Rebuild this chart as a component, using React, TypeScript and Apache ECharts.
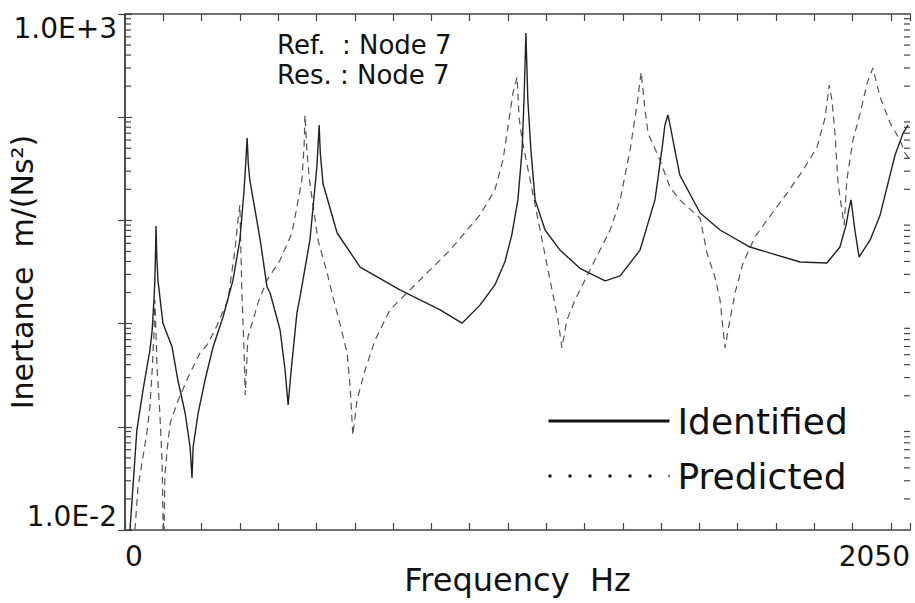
import React, { useEffect, useRef } from 'react';
import * as echarts from 'echarts';

const FONT = 'DejaVu Sans';

// Identified (solid) inertance curve, frequency in Hz, inertance in m/(Ns^2)
const identifiedFreq = [
  8, 13, 31, 47, 65, 71, 76, 78, 80, 81, 83, 86, 99, 123, 138, 157, 170, 175, 178, 191, 209, 230, 256, 282,
  300, 311, 316, 319, 322, 326, 353, 371, 379, 405, 418, 426, 434, 449, 457, 483, 501, 505, 507, 510, 517,
  554, 614, 718, 823, 880, 927, 966, 992, 1010, 1026, 1037, 1042, 1047, 1052, 1060, 1071, 1097, 1136, 1188,
  1254, 1293, 1345, 1384, 1402, 1410, 1418, 1426, 1436, 1449, 1502, 1554, 1632, 1763, 1833, 1867, 1883, 1890,
  1896, 1906, 1917, 1946, 1972, 1990, 2011, 2032, 2045,
];
const identifiedInert = [
  0.006, 0.01, 0.093, 0.227, 0.55, 0.867, 1.8, 2.64, 5.5, 8.8, 4.5, 2.64, 1.01, 0.593, 0.284, 0.136, 0.064, 0.032, 0.064, 0.136, 0.284, 0.593, 1.16, 2.64,
  6.46, 19.7, 40, 63, 35, 24.6, 6.46, 2.26, 1.98, 0.867, 0.355, 0.163, 0.355, 1.27, 1.81, 6.46, 32.9, 60, 84, 45, 22.8,
  7.55, 3.53, 2.12, 1.36, 1.01, 1.51, 2.37, 3.95, 7.2, 15.8, 48, 147, 655, 147, 48, 15.8, 8.07, 5.16, 3.43,
  2.59, 2.9, 5.16, 15.8, 48, 84, 105, 75, 48, 27.5, 11.8, 8.07, 5.52, 3.95, 3.87, 5.52, 9.0, 12.6,
  15.8, 8.07, 4.42, 6.46, 11.3, 21, 43, 70, 84,
];

// Predicted (dashed) inertance curve
const predictedFreq = [
  26, 34, 47, 57, 65, 71, 76, 78, 81, 84, 91, 97, 99, 101, 104, 110, 118, 136, 165, 196, 214, 235, 269, 287,
  295, 300, 305, 310, 314, 321, 340, 347, 371, 405, 436, 449, 462, 468, 470, 475, 481, 504, 528, 543, 561,
  580, 588, 595, 606, 627, 653, 692, 770, 849, 927, 966, 987, 1000, 1013, 1024, 1029, 1037, 1058, 1084,
  1110, 1131, 1141, 1154, 1175, 1214, 1267, 1293, 1319, 1337, 1348, 1358, 1366, 1397, 1423, 1449, 1502,
  1520, 1541, 1554, 1562, 1567, 1575, 1593, 1614, 1645, 1677, 1729, 1771, 1807, 1828, 1839, 1846, 1854,
  1862, 1872, 1878, 1885, 1901, 1920, 1938, 1953, 1972, 1998, 2024, 2037, 2050,
];
const predictedInert = [
  0.01, 0.026, 0.051, 0.087, 0.156, 0.355, 0.87, 1.69, 0.8, 0.355, 0.136, 0.0446, 0.0146, 0.004, 0.033, 0.0596, 0.109, 0.17, 0.304, 0.519, 0.62, 0.87, 1.69, 5.16,
  10, 14.1, 2.12, 0.7, 0.203, 0.741, 1.27, 1.58, 2.64, 4.13, 7.55, 13.5, 24.6, 56, 105, 48, 25.8, 6.46, 3.09, 1.81, 1.01,
  0.519, 0.243, 0.083, 0.182, 0.355, 0.693, 1.36, 2.64, 5.16, 11.3, 19.7, 38.5, 80, 171, 245, 100, 60, 24.6, 8.07,
  2.64, 1.08, 0.581, 1.08, 1.69, 3.3, 8.07, 15.8, 48, 131, 274, 117, 70, 38.5, 21, 15.8, 10.5,
  4.8, 2.8, 1.69, 0.87, 0.581, 0.87, 1.98, 3.87, 6.9, 10.1, 18.4, 30.8, 51, 98, 205, 147, 70,
  23, 12.6, 9.0, 24.6, 60, 110, 214, 300, 157, 88, 60, 45, 38.5,
];

const X_MIN = 0;
const X_MAX = 2050;
const X_INTERVAL = 100;
const Y_MIN = 0.01;
const Y_MAX = 1000;
const xTickLabels: Record<number, string> = { 0: '0', 2050: '2050' };
const yTickLabels: Record<number, string> = { [-2]: '1.0E-2', 3: '1.0E+3' };
const annotationLines = ['Ref.  : Node 7', 'Res. : Node 7'];
const DECADES = [0.01, 0.1, 1, 10, 100];
const MANTISSAS = [2, 3, 4, 5, 6, 7, 8, 9];
const minorTickValues: number[] = [];
DECADES.forEach((d) => MANTISSAS.forEach((m) => minorTickValues.push(+(d * m).toPrecision(3))));

const AXIS_COLOR = '#444';

export default function App() {
  const ref = useRef<HTMLDivElement>(null);
  useEffect(() => {
    if (!ref.current) return;
    const chart = echarts.init(ref.current, undefined, { renderer: 'svg' });
    const idData = identifiedFreq.map((f, i) => [f, identifiedInert[i]]);
    const prData = predictedFreq.map((f, i) => [f, predictedInert[i]]);

    const axisLineStyle = { lineStyle: { color: AXIS_COLOR, width: 1.5 } };
    const tickStyle = { show: true, inside: true, length: 7, lineStyle: { color: AXIS_COLOR, width: 1.2 } };

    chart.setOption({
      animation: false,
      backgroundColor: '#ffffff',
      grid: { left: 125, right: 5, top: 14, bottom: 73, containLabel: false, outerBoundsMode: 'none' },
      title: annotationLines.map((t, i) => ({
        text: t,
        left: 277,
        top: 32 + i * 30,
        padding: 0,
        textStyle: { fontFamily: FONT, fontSize: 26, fontWeight: 'normal', lineHeight: 26, color: '#111' },
      })),
      legend: {
        orient: 'vertical',
        left: 542,
        top: 398,
        itemWidth: 121,
        itemHeight: 40,
        itemGap: 19,
        selectedMode: false,
        data: [
          { name: 'Identified', itemStyle: { opacity: 0, borderWidth: 0 }, lineStyle: { type: 'solid', width: 3, color: '#111' } },
          { name: 'Predicted', itemStyle: { opacity: 0, borderWidth: 0 }, lineStyle: { type: [3, 17], width: 3, color: '#111' } },
        ],
        textStyle: { fontFamily: FONT, fontSize: 36, color: '#111', padding: [0, 0, 0, 3] },
      },
      xAxis: [
        {
          type: 'value',
          min: X_MIN,
          max: X_MAX,
          interval: X_INTERVAL,
          position: 'bottom',
          name: 'Frequency  Hz',
          nameLocation: 'middle',
          nameGap: 34,
          nameMoveOverlap: false,
          nameTextStyle: { fontFamily: FONT, fontSize: 32, color: '#111' },
          axisLine: axisLineStyle,
          axisTick: tickStyle,
          splitLine: { show: false },
          axisLabel: {
            fontFamily: FONT,
            fontSize: 28,
            color: '#111',
            margin: 12,
            showMinLabel: true,
            showMaxLabel: true,
            alignMinLabel: 'left',
            alignMaxLabel: 'right',
            formatter: (v: number) => xTickLabels[v] ?? '',
          },
        },
        {
          type: 'value',
          min: X_MIN,
          max: X_MAX,
          interval: X_INTERVAL,
          position: 'top',
          axisLine: axisLineStyle,
          axisTick: tickStyle,
          axisLabel: { show: false },
          splitLine: { show: false },
        },
      ],
      yAxis: [
        {
          type: 'log',
          logBase: 10,
          min: Y_MIN,
          max: Y_MAX,
          position: 'left',
          name: 'Inertance  m/(Ns²)',
          nameLocation: 'middle',
          nameGap: 88,
          nameMoveOverlap: false,
          nameTextStyle: { fontFamily: FONT, fontSize: 30, color: '#111' },
          axisLine: axisLineStyle,
          axisTick: tickStyle,
          splitLine: { show: false },
          axisLabel: {
            fontFamily: FONT,
            fontSize: 28,
            color: '#111',
            margin: 8,
            showMinLabel: true,
            showMaxLabel: true,
            verticalAlignMinLabel: 'bottom',
            verticalAlignMaxLabel: 'top',
            formatter: (v: number) => yTickLabels[Math.round(Math.log10(v))] ?? '',
          },
        },
        {
          type: 'log',
          logBase: 10,
          min: Y_MIN,
          max: Y_MAX,
          position: 'right',
          axisLine: axisLineStyle,
          axisTick: tickStyle,
          axisLabel: { show: false },
          splitLine: { show: false },
        },
      ],
      series: [
        {
          name: 'Identified',
          type: 'line',
          data: idData,
          symbol: 'none',
          clip: true,
          lineStyle: { color: '#222', width: 1.4 },
          itemStyle: { color: '#222' },
          z: 3,
        },
        {
          name: 'Predicted',
          type: 'line',
          data: prData,
          symbol: 'none',
          clip: true,
          lineStyle: { color: '#555', width: 1.2, type: [7, 5] },
          itemStyle: { color: '#555' },
          z: 2,
        },
        {
          name: 'minorTicks',
          type: 'custom',
          coordinateSystem: 'cartesian2d',
          silent: true,
          clip: false,
          z: 5,
          data: minorTickValues.map((v) => [X_MIN, v]),
          renderItem: (_params: any, api: any) => {
            const v = api.value(1);
            const a = api.coord([X_MIN, v]);
            const b = api.coord([X_MAX, v]);
            return {
              type: 'group',
              children: [
                { type: 'line', shape: { x1: a[0], y1: a[1], x2: a[0] + 6, y2: a[1] }, style: { stroke: AXIS_COLOR, lineWidth: 1.2 } },
                { type: 'line', shape: { x1: b[0] - 6, y1: b[1], x2: b[0], y2: b[1] }, style: { stroke: AXIS_COLOR, lineWidth: 1.2 } },
              ],
            };
          },
        },
      ],
    });
    return () => chart.dispose();
  }, []);
  return <div ref={ref} style={{ position: 'fixed', left: 0, top: 0, width: 915, height: 603 }} />;
}
